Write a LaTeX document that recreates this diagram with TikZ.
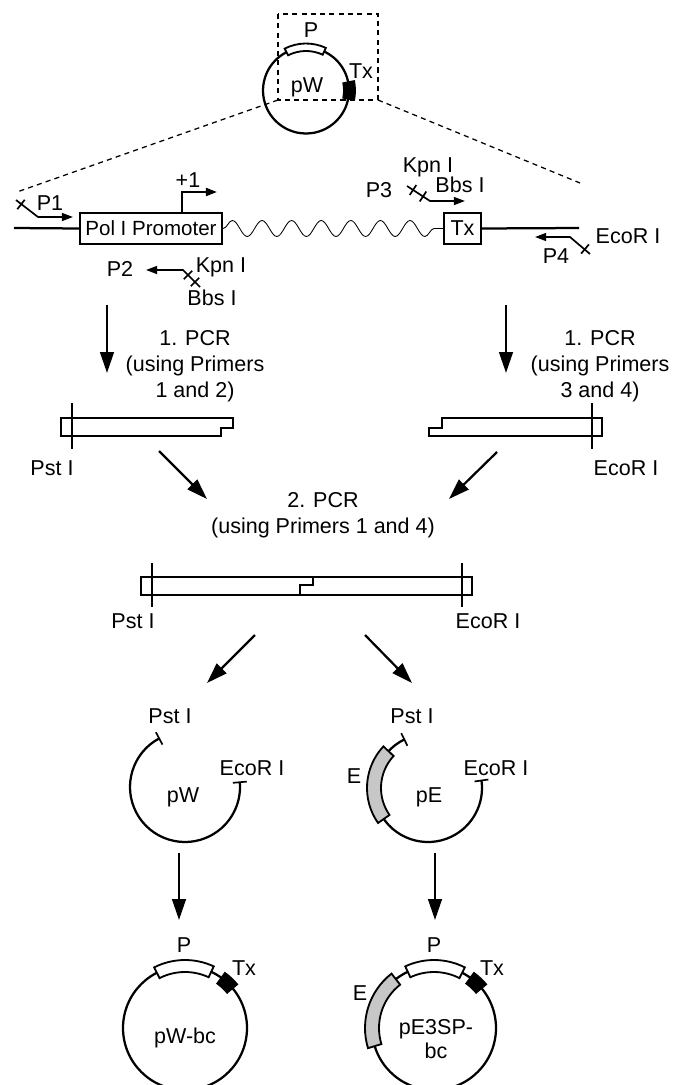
\documentclass[tikz,border=0pt]{standalone}
\usepackage{fontspec}
\setmainfont{Liberation Sans}
\usetikzlibrary{arrows.meta,decorations.pathmorphing}

\tikzset{
	dna/.style={line width=1.6pt},
	site/.style={line width=1.2pt},
	lbl/.style={inner sep=0pt, anchor=base},
	multilbl/.style={inner sep=0pt, align=center},
	gene/.style={draw, line width=1.6pt, fill=white, inner sep=0pt, minimum height=0.775cm},
	steparrow/.style={line width=1.6pt, -{Triangle[length=0.52cm, width=0.34cm]}},
	primer/.style={line width=1.2pt, -{Triangle[length=0.28cm, width=0.2cm]}},
	zoomline/.style={line width=0.9pt, dash pattern=on 3.6pt off 3pt},
	fragment/.style={line width=1.6pt, fill=white},
	wave/.style={line width=0.6pt, decorate, decoration={snake, amplitude=0.2cm, segment length=0.74cm}}
}

\newcommand{\arcblock}[5][white]{%
	\draw[line width=1.3pt, fill=#1] (#2:#4) arc[start angle=#2, end angle=#3, radius=#4] -- (#3:#5) arc[start angle=#3, end angle=#2, radius=#5] -- cycle;}

\begin{document}
\begin{tikzpicture}[x=0.025cm, y=-0.025cm, font=\fontsize{15.3}{18.5}\selectfont]
		\useasboundingbox (0,0) rectangle (674,1085);
		
		\begin{scope}[shift={(306,90.5)}, yscale=-1]
			\draw[dna] (0,0) circle[radius=43];
			\arcblock{65}{117}{39.5}{47}
			\arcblock[black]{-11}{11}{38}{49}
		\end{scope}
		\node[lbl] (pwP) at (311,37) {P};
		\node[lbl] (pwTx) at (361,78) {Tx};
		\node[lbl] (pwName) at (307,92) {pW};
		
		\coordinate (zoomTL) at (278,14);
		\coordinate (zoomBL) at (278,100);
		\coordinate (zoomBR) at (378,100);
		\coordinate (zoomL) at (17,192);
		\coordinate (zoomR) at (580,183);
		\draw[zoomline] (zoomTL) rectangle (zoomBR);
		\draw[zoomline] (zoomBL) -- (zoomL);
		\draw[zoomline] (zoomBR) -- (zoomR);
		
		\node[gene, minimum width=3.55cm, font=\fontsize{14.6}{17}\selectfont] (prom) at (151,228.5) {Pol I Promoter};
		\node[gene, minimum width=0.925cm] (tx) at (462.5,228.5) {Tx};
		\coordinate (lineL) at (14,228);
		\coordinate (lineR) at (579,228);
		\draw[dna] (lineL) -- (prom.west);
		\draw[dna] (tx.east) -- (lineR);
		\draw[wave] (prom.east) -- (tx.west);
		
		\coordinate (tssA) at (182,213);
		\coordinate (tssB) at (217,192);
		\draw[primer, line width=1.5pt] (tssA) |- (tssB);
		\node[lbl] (tssLbl) at (188,187) {+1};
		
		\coordinate (p1a) at (16,200);
		\coordinate (p1b) at (38,217);
		\coordinate (p1c) at (73,217);
		\draw[primer] (p1a) -- (p1b) -- (p1c);
		\draw[site] (24.7,199.8) -- (17.3,209.2);
		\node[lbl] (p1Lbl) at (50,210) {P1};
		
		\coordinate (p2a) at (200,287);
		\coordinate (p2b) at (183,270);
		\coordinate (p2c) at (146,270);
		\draw[primer] (p2a) -- (p2b) -- (p2c);
		\draw[site] (192.2,270.8) -- (183.8,279.2);
		\draw[site] (199.2,277.8) -- (190.8,286.2);
		\node[lbl] (p2Lbl) at (120,276) {P2};
		\node[lbl] (p2Kpn) at (221,272) {Kpn I};
		\node[lbl] (p2Bbs) at (212,305) {Bbs I};
		
		\coordinate (p3a) at (407,186);
		\coordinate (p3b) at (430,201);
		\coordinate (p3c) at (465,201);
		\draw[primer] (p3a) -- (p3b) -- (p3c);
		\draw[site] (416.3,185) -- (409.7,195);
		\draw[site] (426.3,191.5) -- (419.7,201.5);
		\node[lbl] (p3Lbl) at (379,197) {P3};
		\node[lbl] (p3Kpn) at (428,172) {Kpn I};
		\node[lbl] (p3Bbs) at (460,192) {Bbs I};
		
		\coordinate (p4a) at (590,254);
		\coordinate (p4b) at (570,237);
		\coordinate (p4c) at (535,237);
		\draw[primer] (p4a) -- (p4b) -- (p4c);
		\draw[site] (588.9,244.4) -- (581.1,253.6);
		\node[lbl] (p4Lbl) at (556,263) {P4};
		\node[lbl] (p4Eco) at (628,243) {EcoR I};
		
		\coordinate (pcrLs) at (107,305);
		\coordinate (pcrLe) at (107,373);
		\coordinate (pcrRs) at (506,305);
		\coordinate (pcrRe) at (506,373);
		\draw[steparrow] (pcrLs) -- (pcrLe);
		\draw[steparrow] (pcrRs) -- (pcrRe);
		\node[multilbl] (pcrL) at (195,366.5) {1. PCR\\(using Primers\\1 and 2)};
		\node[multilbl] (pcrR) at (600,366.5) {1. PCR\\(using Primers\\3 and 4)};
		
		\draw[fragment] (61,418) -- (233,418) -- (233,428) -- (221,428) -- (221,436) -- (61,436) -- cycle;
		\draw[dna] (72,403) -- (72,449);
		\node[lbl] (fragLPst) at (52,475) {Pst I};
		\draw[fragment] (442,418) -- (602,418) -- (602,436) -- (429,436) -- (429,428) -- (442,428) -- cycle;
		\draw[dna] (592,403) -- (592,449);
		\node[lbl] (fragREco) at (626,475) {EcoR I};
		
		\coordinate (joinLs) at (159,451);
		\coordinate (joinLe) at (207,499);
		\coordinate (joinRs) at (497,452);
		\coordinate (joinRe) at (449,499);
		\draw[steparrow] (joinLs) -- (joinLe);
		\draw[steparrow] (joinRs) -- (joinRe);
		\node[multilbl] (pcrJoin) at (323,515) {2. PCR\\(using Primers 1 and 4)};
		
		\draw[fragment] (141,577) rectangle (472,595);
		\draw[dna] (313,577) -- (313,585) -- (300,585) -- (300,595);
		\draw[dna] (152,563) -- (152,607);
		\draw[dna] (462,563) -- (462,607);
		\node[lbl] (fullPst) at (133,628) {Pst I};
		\node[lbl] (fullEco) at (488,628) {EcoR I};
		
		\coordinate (cutLs) at (255,635);
		\coordinate (cutLe) at (207,683);
		\coordinate (cutRs) at (365,635);
		\coordinate (cutRe) at (412,683);
		\draw[steparrow] (cutLs) -- (cutLe);
		\draw[steparrow] (cutRs) -- (cutRe);
		
		\begin{scope}[shift={(185,787)}, yscale=-1]
			\draw[dna] (118:55) arc[start angle=118, end angle=365, radius=55];
			\draw[site] (118:48) -- (118:62);
			\draw[site] (5:48) -- (5:62);
		\end{scope}
		\node[lbl] (openWPst) at (170,723) {Pst I};
		\node[lbl] (openWEco) at (252,775) {EcoR I};
		\node[lbl] (openWName) at (183,802) {pW};
		
		\begin{scope}[shift={(428,788)}, yscale=-1]
			\draw[dna] (116:54) arc[start angle=116, end angle=368, radius=54];
			\arcblock[black!22]{137}{215}{47}{61}
			\draw[site] (116:47) -- (116:61);
			\draw[site] (8:47) -- (8:61);
		\end{scope}
		\node[lbl] (openEPst) at (412,723) {Pst I};
		\node[lbl] (openEEco) at (496,775) {EcoR I};
		\node[lbl] (openEName) at (429,802) {pE};
		\node[lbl] (openEE) at (354,783) {E};
		
		\coordinate (ligLs) at (179,853);
		\coordinate (ligLe) at (179,920);
		\coordinate (ligRs) at (435,853);
		\coordinate (ligRe) at (435,920);
		\draw[steparrow] (ligLs) -- (ligLe);
		\draw[steparrow] (ligRs) -- (ligRe);
		
		\begin{scope}[shift={(185,1028)}, yscale=-1]
			\draw[dna] (0,0) circle[radius=62];
			\arcblock{65}{117}{56}{68}
			\arcblock[black]{40}{54}{55}{68}
		\end{scope}
		\node[lbl] (bcWP) at (184,952) {P};
		\node[lbl] (bcWTx) at (244,975) {Tx};
		\node[lbl] (bcWName) at (185,1043) {pW-bc};
		
		\begin{scope}[shift={(434,1028)}, yscale=-1]
			\draw[dna] (0,0) circle[radius=62];
			\arcblock[black!22]{128}{197}{55}{69}
			\arcblock{63}{115}{56}{68}
			\arcblock[black]{40}{54}{55}{68}
		\end{scope}
		\node[lbl] (bcEP) at (434,952) {P};
		\node[lbl] (bcETx) at (492,975) {Tx};
		\node[lbl] (bcEE) at (360,1000) {E};
		\node[multilbl, font=\fontsize{15.3}{16.5}\selectfont] (bcEName) at (436,1039) {pE3SP-\\bc};
		\end{tikzpicture}
\end{document}
